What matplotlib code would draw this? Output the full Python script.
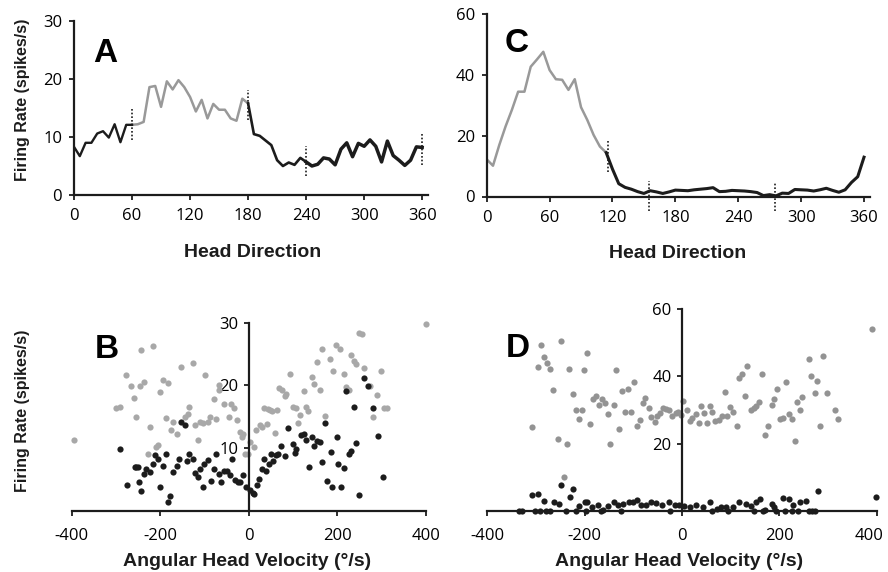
import numpy as np
import matplotlib
matplotlib.use("Agg")
import matplotlib.pyplot as plt
import matplotlib.transforms as mtransforms

plt.rcParams["axes.unicode_minus"] = False

# ---------------- data ----------------
hd_angles = list(range(0, 361, 6))

a_rate = [8.3, 6.7, 9.0, 9.0, 10.6, 11.0, 9.9, 12.2, 9.1, 12.1,
          12.1, 12.2, 12.6, 18.6, 18.8, 15.2, 19.6, 18.2, 19.8, 18.6,
          16.9, 14.4, 16.4, 13.2, 15.7, 14.7, 14.7, 13.2, 12.8, 16.6,
          15.8,
          10.5, 10.2, 9.4, 8.6, 6.0, 5.0, 5.6, 5.2, 6.4, 5.7,
          5.0, 5.3, 6.4, 6.2, 5.2, 7.9, 9.0, 6.6, 8.9, 8.4,
          9.5, 8.4, 5.7, 9.3, 6.8, 6.0, 5.1, 6.0, 8.3, 8.2]

c_rate = [12.2, 10.1, 16.9, 23.0, 28.4, 34.4, 34.4, 42.6, 45.0, 47.5,
          41.5, 38.5, 38.3, 35.0, 38.5, 29.3, 25.1, 20.2, 16.4, 14.4,
          9.0, 4.2, 3.0, 2.4, 1.6, 1.0, 1.9, 1.5, 1.0, 1.5,
          2.1, 2.0, 1.9, 2.2, 2.4, 2.6, 2.9, 1.6, 1.7, 2.0,
          1.9, 1.8, 1.6, 1.3, 0.3, 0.6, 0.2, 1.1, 1.0, 2.3,
          2.2, 2.1, 1.8, 2.2, 2.7, 2.0, 1.4, 2.2, 4.6, 6.5, 12.9]

a_marks = [60, 180, 240, 360]
a_mark_lo = [9.5, 12.9, 3.2, 5.2]
a_mark_hi = [14.8, 18.1, 8.4, 10.5]
c_marks = [116, 155, 275]
c_mark_lo = [8.2, -4.9, -4.9]
c_mark_hi = [18.6, 5.2, 4.9]

b_gray_x = [-394, -301, -290, -277, -265, -260, -254, -246, -243, -236, -228, -224, -217, -210,
            -206, -200, -194, -188, -183, -175, -170, -163, -152, -143, -137, -134, -127, -122,
            -115, -111, -103, -98, -93, -87, -79, -75, -68, -66, -56, -45, -41, -34, -26, -20,
            -15, -13, -8, -2, 4, 11, 17, 25, 30, 34, 41, 44, 49, 53, 59, 64, 69, 75, 81, 85,
            93, 100, 106, 111, 117, 124, 130, 135, 143, 148, 154, 160, 166, 173, 183, 191,
            197, 207, 215, 221, 226, 231, 237, 243, 249, 256, 261, 273, 280, 289, 298, 305,
            313, 401]
b_gray_y = [11.2, 16.3, 16.5, 21.7, 19.9, 17.9, 14.9, 19.9, 25.6, 20.6, 9.1, 13.3, 26.2, 10.2,
            10.4, 19.0, 20.8, 14.7, 20.4, 12.8, 14.2, 12.2, 23.0, 14.9, 15.4, 16.6, 23.6, 13.6,
            11.2, 14.2, 14.0, 21.7, 14.2, 14.9, 17.8, 14.6, 20.1, 19.2, 17.0, 14.9, 17.0, 16.3,
            14.4, 12.6, 11.8, 12.2, 9.1, 9.0, 11.0, 10.2, 12.8, 13.6, 13.4, 16.4, 13.8, 16.2,
            16.0, 15.9, 12.4, 16.1, 19.5, 19.3, 18.3, 18.6, 21.8, 16.6, 16.4, 13.9, 15.2, 19.1,
            16.5, 15.9, 21.4, 20.2, 23.8, 19.3, 25.8, 15.1, 24.2, 22.3, 26.5, 25.8, 21.8, 19.8,
            19.3, 24.9, 23.9, 23.4, 28.3, 28.2, 22.7, 19.9, 14.9, 18.4, 22.3, 16.3, 16.3, 29.8]

b_black_x = [-290, -276, -258, -254, -250, -249, -243, -236, -231, -224, -217, -211, -206, -201,
             -194, -188, -182, -177, -170, -163, -157, -152, -145, -139, -134, -127, -122, -115,
             -111, -104, -100, -93, -85, -79, -75, -68, -62, -56, -50, -43, -38, -32, -25, -19,
             -14, -5, 2, 9, 13, 18, 23, 29, 34, 40, 45, 51, 56, 61, 66, 72, 81, 88, 99, 105,
             108, 118, 124, 130, 136, 143, 148, 154, 160, 166, 173, 177, 185, 189, 199, 202,
             209, 215, 220, 227, 231, 237, 243, 250, 261, 269, 280, 292, 304]
b_black_y = [9.9, 4.0, 7.0, 7.0, 7.0, 4.6, 3.1, 5.9, 6.7, 6.1, 7.4, 8.9, 8.2, 3.8,
             7.1, 9.0, 1.3, 2.3, 6.2, 7.1, 8.3, 14.2, 13.6, 7.9, 9.1, 8.2, 6.0, 5.4,
             6.6, 3.7, 7.5, 8.0, 4.7, 6.6, 9.0, 5.8, 4.6, 6.3, 6.3, 5.7, 8.3, 4.9, 4.5, 4.6,
             5.7, 3.8, 3.2, 2.8, 2.7, 4.0, 5.0, 6.6, 8.3, 6.3, 7.5, 9.0, 7.9, 8.8, 9.0, 10.3,
             8.7, 13.1, 10.6, 9.2, 9.9, 12.0, 12.3, 11.2, 7.0, 11.8, 10.3, 11.1, 10.9, 7.8,
             13.9, 4.7, 9.4, 3.7, 11.7, 7.5, 3.7, 6.8, 19.1, 9.0, 9.5, 16.6, 10.8, 2.4, 21.1,
             19.9, 16.3, 11.9, 5.4]

d_gray_x = [-308, -296, -290, -284, -277, -272, -266, -255, -249, -242, -237, -232, -223, -218,
            -212, -206, -201, -195, -190, -183, -177, -171, -165, -159, -153, -147, -140, -135,
            -129, -123, -117, -110, -104, -99, -92, -86, -81, -75, -68, -63, -56, -51, -45, -39,
            -32, -27, -20, -13, -8, -2, 3, 11, 16, 21, 28, 34, 40, 45, 51, 57, 62, 68, 75, 82,
            88, 93, 99, 105, 112, 117, 123, 129, 134, 142, 147, 153, 158, 165, 171, 177, 184,
            189, 195, 201, 208, 213, 220, 225, 232, 237, 243, 247, 261, 266, 273, 277, 283,
            290, 297, 315, 321, 390]
d_gray_y = [25.0, 42.8, 49.3, 45.8, 44.0, 42.3, 36.0, 21.3, 50.6, 9.9, 19.9, 42.2, 34.9, 29.9,
            27.3, 29.9, 41.8, 47.1, 25.8, 33.4, 34.2, 31.4, 33.4, 32.0, 28.9, 19.8, 31.4, 41.8,
            24.3, 35.8, 29.5, 36.3, 29.5, 38.4, 25.1, 27.1, 32.2, 33.5, 30.7, 28.0, 26.3, 28.3,
            29.2, 30.7, 30.2, 30.0, 28.3, 29.2, 29.5, 28.6, 32.8, 29.9, 26.6, 27.6, 28.9, 26.1,
            31.2, 29.2, 26.1, 31.2, 29.3, 26.6, 26.9, 28.3, 35.3, 28.1, 31.0, 29.5, 25.3, 39.5,
            40.8, 34.2, 43.0, 29.9, 30.5, 31.1, 32.4, 40.7, 22.6, 25.3, 31.5, 33.2, 36.2, 27.3,
            27.5, 38.3, 28.9, 27.3, 20.9, 32.5, 29.9, 33.8, 45.2, 40.0, 35.0, 38.5, 25.1, 46.2,
            35.0, 29.9, 27.3, 54.1]

d_black_x = [-334, -328, -308, -301, -296, -292, -284, -279, -272, -262, -253, -249, -239, -231,
             -224, -218, -212, -200, -197, -195, -185, -173, -166, -162, -152, -140, -132, -125,
             -121, -108, -101, -92, -84, -73, -63, -53, -42, -25, -27, -15, -6, 5, 16, 29, 43,
             57, 62, 71, 81, 91, 95, 105, 118, 131, 142, 147, 153, 161, 166, 170, 184, 190, 194,
             208, 211, 219, 227, 228, 238, 242, 254, 261, 267, 273, 279, 399]
d_black_y = [0.0, 0.0, 4.7, 0.0, 5.0, 0.0, 2.9, 0.0, 0.0, 2.7, 1.9, 7.7, 0.0, 4.0,
             6.4, 0.0, 1.5, 2.7, 0.0, 2.5, 1.2, 1.7, 0.0, 0.2, 1.5, 2.7, 1.7, 0.0,
             1.9, 2.5, 2.7, 3.2, 1.7, 1.7, 2.5, 2.2, 1.7, 0.0, 2.5, 1.7, 1.7, 1.5, 1.2, 1.7, 1.2,
             2.5, 0.0, 0.5, 1.2, 1.0, 0.0, 1.2, 2.5, 1.9, 1.4, 0.0, 2.5, 3.5, 0.0, 0.2, 1.9, 1.2, 0.0,
             3.7, 0.0, 3.5, 0.0, 1.7, 0.0, 2.5, 2.9, 0.0, 0.0, 0.0, 6.0, 4.2]

# ---------------- style ----------------
W, H = 888, 572
BLACK = "#1c1c1c"
GRAY = "#999999"
TICKFONT = "Open Sans"
LABFONT = "Liberation Sans"

fig = plt.figure(figsize=(W / 100, H / 100), dpi=100)


def ax_px(x0, y_bottom, x1, y_top):
    return fig.add_axes([x0 / W, 1 - y_bottom / H, (x1 - x0) / W, (y_bottom - y_top) / H])


def style(ax, xpad=6, ypad=5):
    for s in ["top", "right"]:
        ax.spines[s].set_visible(False)
    for s in ["left", "bottom"]:
        ax.spines[s].set_linewidth(1.6)
        ax.spines[s].set_color(BLACK)
    ax.tick_params(direction="out", length=3.5, width=1.3, color=BLACK, labelsize=12)
    ax.tick_params(axis="x", pad=xpad)
    ax.tick_params(axis="y", pad=ypad)
    for lab in ax.get_xticklabels() + ax.get_yticklabels():
        lab.set_fontfamily(TICKFONT)
    ax.patch.set_alpha(0)


x = np.array(hd_angles, dtype=float)

# ---------- Panel A ----------
axA = ax_px(74, 195, 428, 21)
a = np.array(a_rate)
axA.plot(x[10:31], a[10:31], color=GRAY, lw=1.8)
axA.plot(x[0:11], a[0:11], color=BLACK, lw=1.7)
axA.plot(x[30:41], a[30:41], color=BLACK, lw=1.9)
axA.plot(x[40:61], a[40:61], color=BLACK, lw=2.5)
axA.vlines(a_marks, a_mark_lo, a_mark_hi, colors=BLACK, linestyles=(0, (1, 1.2)), lw=1.2, clip_on=False)
axA.set_xlim(0, 366)
axA.set_ylim(0, 30)
axA.set_xticks([0, 60, 120, 180, 240, 300, 360])
axA.set_yticks([0, 10, 20, 30])
style(axA, xpad=6)

# ---------- Panel C ----------
axC = ax_px(486.7, 196.5, 870.3, 13.7)
c = np.array(c_rate)
axC.plot(x[0:20], c[0:20], color=GRAY, lw=1.8)
axC.plot(x[19:61], c[19:61], color=BLACK, lw=2.2)
axC.vlines(c_marks, c_mark_lo, c_mark_hi, colors=BLACK, linestyles=(0, (1, 1.2)), lw=1.2, clip_on=False)
axC.set_xlim(0, 366)
axC.set_ylim(0, 60)
axC.set_xticks([0, 60, 120, 180, 240, 300, 360])
axC.set_yticks([0, 20, 40, 60])
style(axC, xpad=6)


def scatter_panel(ax, gx, gy, bx, by, ymax, yticks, gcol):
    ax.scatter(gx, gy, s=20, color=gcol, linewidths=0, clip_on=False, zorder=2)
    ax.scatter(bx, by, s=20, color=BLACK, linewidths=0, clip_on=False, zorder=3)
    ax.set_xlim(-400, 400)
    ax.set_ylim(0, ymax)
    ax.spines["left"].set_position(("data", 0))
    ax.set_xticks([-400, -200, 0, 200, 400])
    ax.set_yticks(yticks)
    style(ax, xpad=9, ypad=4)
    ax.spines["left"].set_zorder(4)


# ---------- Panel B ----------
axB = ax_px(71.7, 510.5, 425.7, 322.7)
scatter_panel(axB, b_gray_x, b_gray_y, b_black_x, b_black_y, 30, [10, 20, 30], "#a8a8a8")

# ---------- Panel D ----------
axD = ax_px(487.3, 510.7, 876.7, 309.3)
scatter_panel(axD, d_gray_x, d_gray_y, d_black_x, d_black_y, 60, [20, 40, 60], "#939393")
# the rightmost tick label sits a little left of its tick (as in the reference)
last_lab = axD.get_xticklabels()[-1]
last_lab.set_transform(last_lab.get_transform()
                       + mtransforms.ScaledTranslation(-8 / 100, 0, fig.dpi_scale_trans))

# ---------- labels ----------
lab_kw = dict(fontfamily=LABFONT, fontweight="bold", color=BLACK, ha="center", va="center")
fig.text(253 / W, 1 - 252 / H, "Head Direction", fontsize=14, **lab_kw)
fig.text(678 / W, 1 - 253 / H, "Head Direction", fontsize=14, **lab_kw)
fig.text(247 / W, 1 - 561 / H, "Angular Head Velocity (°/s)", fontsize=14, **lab_kw)
fig.text(679 / W, 1 - 561 / H, "Angular Head Velocity (°/s)", fontsize=14, **lab_kw)
fig.text(22 / W, 1 - 100 / H, "Firing Rate (spikes/s)", rotation=90, fontsize=11.5, **lab_kw)
fig.text(22 / W, 1 - 411 / H, "Firing Rate (spikes/s)", rotation=90, fontsize=11.5, **lab_kw)

let_kw = dict(fontfamily=LABFONT, fontweight="bold", fontsize=24, color="black",
              ha="left", va="baseline")
fig.text(93 / W, 1 - 62 / H, "A", **let_kw)
fig.text(95 / W, 1 - 358 / H, "B", **let_kw)
fig.text(505 / W, 1 - 52 / H, "C", **let_kw)
fig.text(506 / W, 1 - 357 / H, "D", **let_kw)

fig.savefig("out.png", dpi=100)
